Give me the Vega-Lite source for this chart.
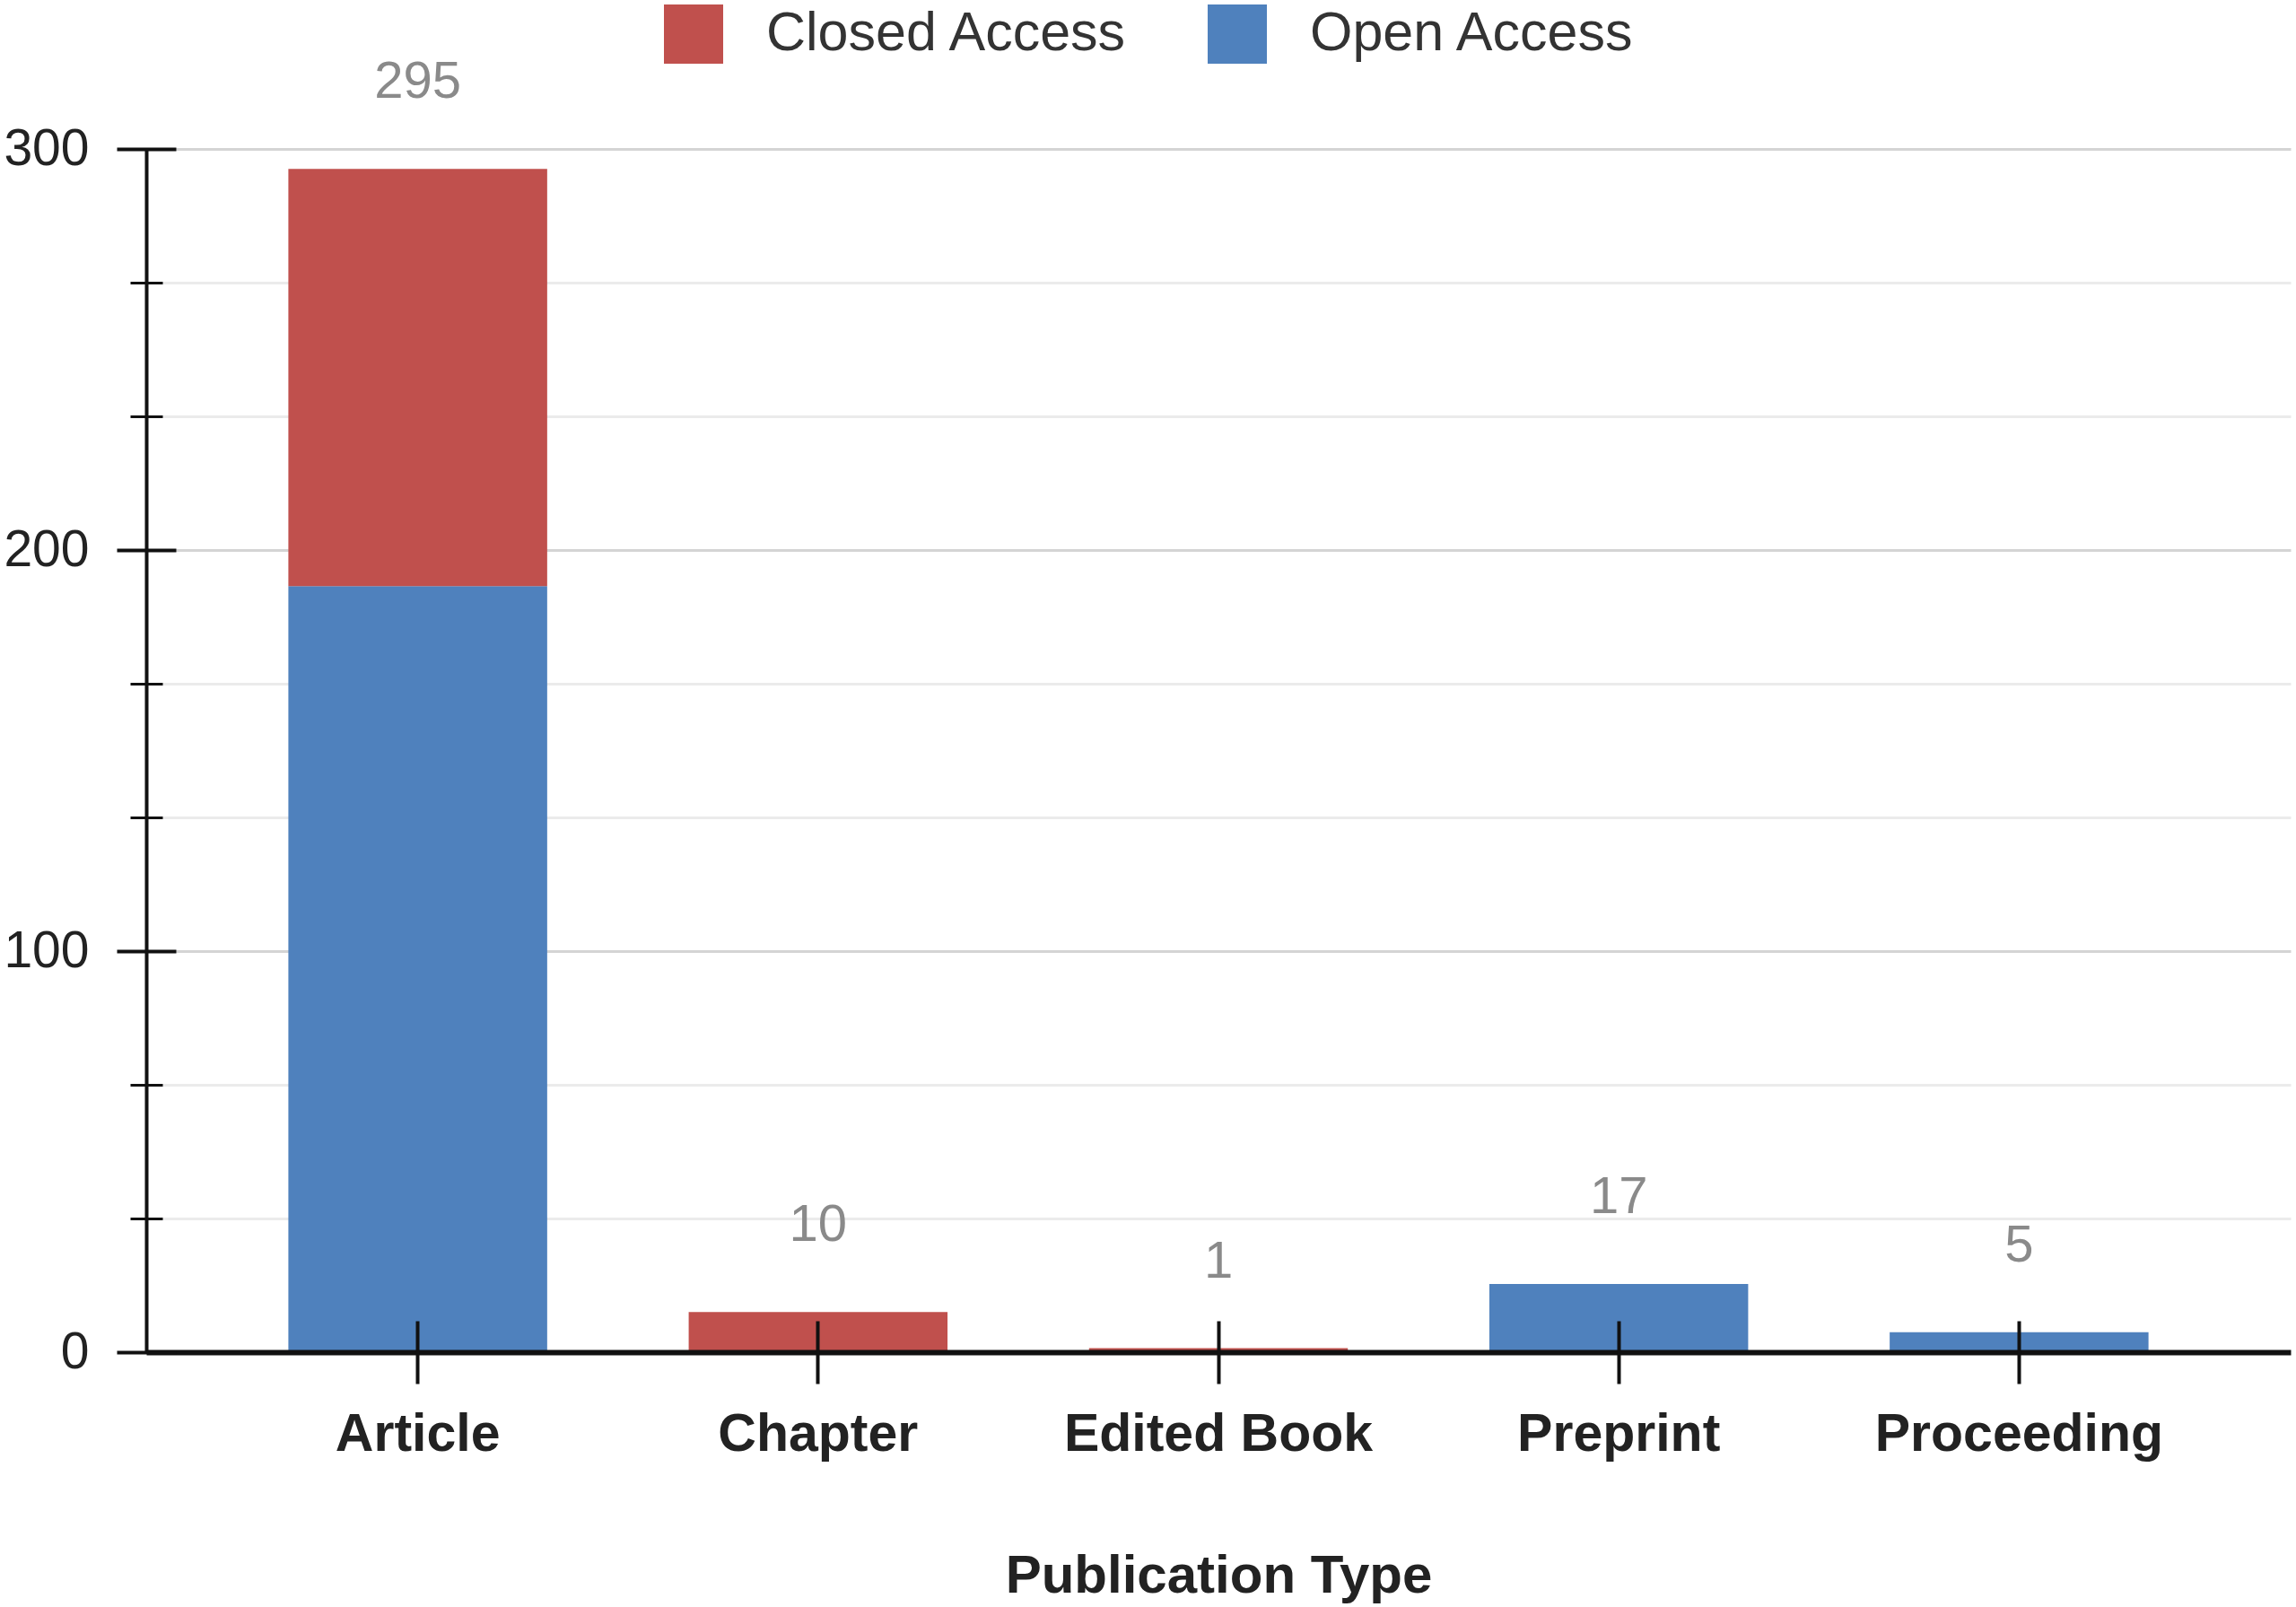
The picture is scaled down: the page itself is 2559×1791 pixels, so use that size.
{
  "$schema": "https://vega.github.io/schema/vega-lite/v6.json",
  "width": 2390,
  "height": 1341,
  "autosize": "none",
  "padding": {"left": 163, "top": 166, "right": 6, "bottom": 284},
  "background": "white",
  "config": {"view": {"stroke": null}, "font": "Liberation Sans"},
  "data": {
    "values": [
      {"type": "Article", "access": "Open Access", "count": 191},
      {"type": "Article", "access": "Closed Access", "count": 104},
      {"type": "Chapter", "access": "Closed Access", "count": 10},
      {"type": "Edited Book", "access": "Closed Access", "count": 1},
      {"type": "Preprint", "access": "Open Access", "count": 17},
      {"type": "Proceeding", "access": "Open Access", "count": 5}
    ]
  },
  "layer": [
    {
      "mark": {"type": "bar", "opacity": 0},
      "encoding": {
        "x": {"field": "type", "type": "nominal", "scale": {"paddingInner": 0.3535, "paddingOuter": 0.355}, "axis": null},
        "y": {
          "field": "count", "type": "quantitative", "scale": {"domain": [0, 300], "nice": false},
          "axis": {"orient": "left", "values": [33.333, 66.667, 133.333, 166.667, 233.333, 266.667], "grid": true, "gridColor": "#ebebeb", "gridWidth": 3, "labels": false, "ticks": false, "domain": false, "title": null, "zindex": 0}
        }
      }
    },
    {
      "mark": {"type": "bar", "opacity": 0},
      "encoding": {
        "x": {"field": "type", "type": "nominal", "scale": {"paddingInner": 0.3535, "paddingOuter": 0.355}, "axis": null},
        "y": {
          "field": "count", "type": "quantitative", "scale": {"domain": [0, 300], "nice": false},
          "axis": {"orient": "left", "values": [100, 200, 300], "grid": true, "gridColor": "#d4d4d4", "gridWidth": 3, "labels": false, "ticks": false, "domain": false, "title": null, "zindex": 0}
        }
      }
    },
    {
      "mark": {"type": "bar"},
      "encoding": {
        "x": {
          "field": "type", "type": "nominal", "scale": {"paddingInner": 0.3535, "paddingOuter": 0.355},
          "axis": {"orient": "bottom", "title": "Publication Type", "ticks": false, "domain": true, "domainColor": "#111", "domainWidth": 6, "labelFontSize": 59, "labelFontWeight": "bold", "labelColor": "#222", "labelPadding": 62, "labelLimit": 0, "labelAngle": 0, "titleFontSize": 60, "titleFontWeight": "bold", "titleColor": "#222", "titlePadding": 99, "grid": false, "zindex": 1}
        },
        "y": {
          "field": "count", "type": "quantitative", "scale": {"domain": [0, 300], "nice": false}, "stack": "zero",
          "axis": {"orient": "left", "values": [0, 100, 200, 300], "ticks": false, "grid": false, "domainColor": "#111", "domainWidth": 4, "labelFontSize": 57, "labelColor": "#222", "labelPadding": 64, "labelLimit": 0, "title": null, "zindex": 1}
        },
        "color": {
          "field": "access", "type": "nominal",
          "scale": {"domain": ["Closed Access", "Open Access"], "range": ["#C0504D", "#4F81BD"]},
          "legend": {"title": null, "orient": "none", "legendX": 577, "legendY": -161, "direction": "horizontal", "symbolType": "square", "symbolSize": 4356, "symbolStrokeWidth": 0, "symbolOpacity": 1, "labelFontSize": 61, "labelColor": "#333", "labelOffset": 48, "labelLimit": 0, "columnPadding": 88, "padding": 0}
        },
        "order": {"field": "access", "sort": "descending"}
      }
    },
    {
      "transform": [{"aggregate": [{"op": "sum", "field": "count", "as": "total"}], "groupby": ["type"]}],
      "mark": {"type": "text", "baseline": "alphabetic", "dy": -79, "fontSize": 58, "color": "#8a8a8a"},
      "encoding": {
        "x": {
          "field": "type", "type": "nominal", "scale": {"paddingInner": 0.3535, "paddingOuter": 0.355},
          "axis": {"orient": "bottom", "labels": false, "domain": false, "ticks": true, "tickSize": 70, "offset": -35, "tickColor": "#111", "tickWidth": 4, "grid": false, "title": null, "zindex": 1}
        },
        "y": {
          "field": "total", "type": "quantitative", "scale": {"domain": [0, 300], "nice": false},
          "axis": {"orient": "left", "values": [0, 100, 200, 300], "labels": false, "domain": false, "ticks": true, "tickSize": 66, "offset": -33, "tickColor": "#111", "tickWidth": 4, "grid": false, "title": null, "zindex": 1}
        },
        "text": {"field": "total", "type": "quantitative"}
      }
    },
    {
      "mark": {"type": "bar", "opacity": 0},
      "encoding": {
        "x": {"field": "type", "type": "nominal", "scale": {"paddingInner": 0.3535, "paddingOuter": 0.355}, "axis": null},
        "y": {
          "field": "count", "type": "quantitative", "scale": {"domain": [0, 300], "nice": false},
          "axis": {"orient": "left", "values": [33.333, 66.667, 133.333, 166.667, 233.333, 266.667], "labels": false, "domain": false, "ticks": true, "tickSize": 36, "offset": -18, "tickColor": "#111", "tickWidth": 3, "grid": false, "title": null, "zindex": 1}
        }
      }
    }
  ],
  "resolve": {"axis": {"x": "independent", "y": "independent"}}
}
